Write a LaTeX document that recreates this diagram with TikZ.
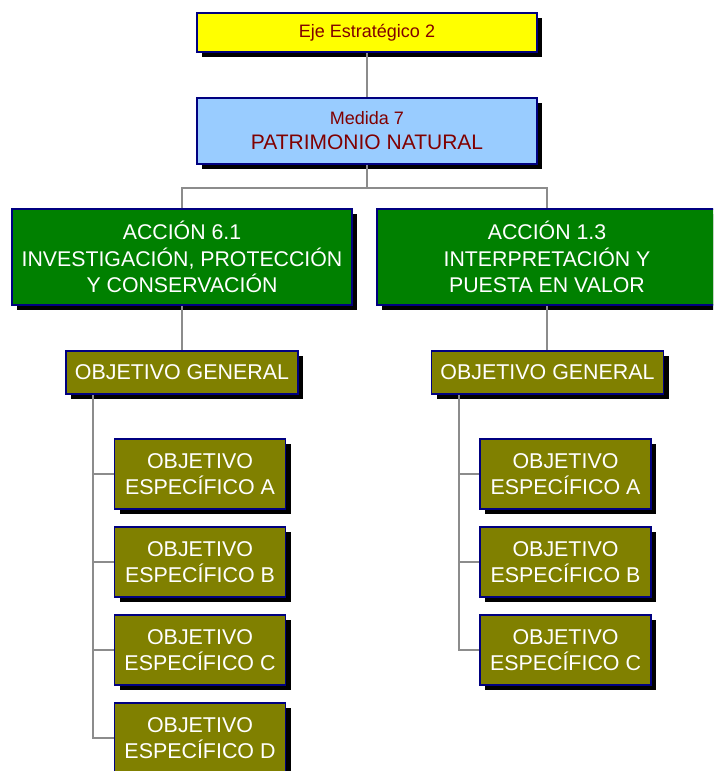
\documentclass[tikz,border=0pt]{standalone}
\usepackage{fontspec}
\setmainfont{Liberation Sans}
\usetikzlibrary{shadows}
\definecolor{bordernavy}{HTML}{000080}
\definecolor{ejeyellow}{HTML}{FFFF00}
\definecolor{medblue}{HTML}{99CCFF}
\definecolor{accgreen}{HTML}{008000}
\definecolor{objolive}{HTML}{808000}
\definecolor{darkred}{HTML}{800000}
\definecolor{conngray}{HTML}{8C8C8C}
\tikzset{
  box/.style={rectangle, draw=bordernavy, line width=1.5pt, inner sep=0pt, align=center,
    drop shadow={shadow xshift=5pt, shadow yshift=-5pt, fill=black, opacity=1}},
  ejebox/.style={box, fill=ejeyellow, text=darkred, minimum width=340pt, minimum height=39pt,
    font=\fontsize{18}{22}\selectfont},
  medbox/.style={box, fill=medblue, text=darkred, minimum width=340pt, minimum height=66pt,
    font=\fontsize{21}{25}\selectfont},
  accbox/.style={box, fill=accgreen, text=white, minimum width=340pt, minimum height=96pt,
    font=\fontsize{21.3}{26.3}\selectfont},
  genbox/.style={box, fill=objolive, text=white, minimum width=232pt, minimum height=43pt,
    font=\fontsize{21.4}{26.5}\selectfont},
  espbox/.style={box, fill=objolive, text=white, minimum width=171pt, minimum height=70pt,
    font=\fontsize{21.4}{26.5}\selectfont},
  conn/.style={draw=conngray, line width=1.5pt}
}
\begin{document}
\begin{tikzpicture}[x=1pt,y=-1pt]
\useasboundingbox (0,0) rectangle (713,771);
\clip (0,0) rectangle (713,771);
\coordinate (hb) at (367,188);
\coordinate (l1) at (93,0);
\coordinate (l2) at (459,0);

\node[ejebox] (eje) at (367,32.5) {Eje Estratégico 2};
\node[medbox] (med) at (367,131) {{\fontsize{18}{22}\selectfont Medida 7}\\PATRIMONIO NATURAL};

\node[accbox] (acc1) at (182,257) {ACCIÓN 6.1\\INVESTIGACIÓN, PROTECCIÓN\\Y CONSERVACIÓN};
\node[accbox] (acc2) at (547,257) {ACCIÓN 1.3\\INTERPRETACIÓN Y\\PUESTA EN VALOR};

\node[genbox] (og1) at (182,372.5) {OBJETIVO GENERAL};
\node[genbox] (og2) at (547.5,372.5) {OBJETIVO GENERAL};

\node[espbox] (sa1) at (200,474) {OBJETIVO\\ESPECÍFICO A};
\node[espbox] (sb1) at (200,562) {OBJETIVO\\ESPECÍFICO B};
\node[espbox] (sc1) at (200,650) {OBJETIVO\\ESPECÍFICO C};
\node[espbox] (sd1) at (200,738) {OBJETIVO\\ESPECÍFICO D};

\node[espbox] (sa2) at (565.5,474) {OBJETIVO\\ESPECÍFICO A};
\node[espbox] (sb2) at (565.5,562) {OBJETIVO\\ESPECÍFICO B};
\node[espbox] (sc2) at (565.5,650) {OBJETIVO\\ESPECÍFICO C};

\draw[conn] (eje.south) -- (med.north);
\draw[conn] (med.south) -- (hb);
\draw[conn] (acc1.north) |- (hb) -| (acc2.north);
\draw[conn] (acc1.south) -- (og1.north);
\draw[conn] (acc2.south) -- (acc2.south |- og2.north);

\draw[conn] (l1 |- og1.south) |- (sd1.west);
\draw[conn] (l1 |- sa1.west) -- (sa1.west);
\draw[conn] (l1 |- sb1.west) -- (sb1.west);
\draw[conn] (l1 |- sc1.west) -- (sc1.west);

\draw[conn] (l2 |- og2.south) |- (sc2.west);
\draw[conn] (l2 |- sa2.west) -- (sa2.west);
\draw[conn] (l2 |- sb2.west) -- (sb2.west);
\end{tikzpicture}
\end{document}
